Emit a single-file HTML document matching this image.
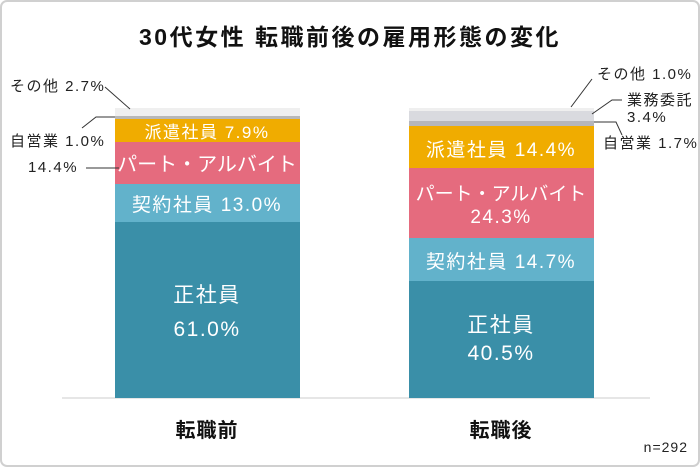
<!DOCTYPE html>
<html><head><meta charset="utf-8"><style>
body{margin:0;background:#fff}
svg text{font-family:"Liberation Sans","Noto Sans CJK JP",sans-serif}
.ls{letter-spacing:1.5px}
</style></head><body>
<svg width="700" height="467" viewBox="0 0 700 467" xmlns="http://www.w3.org/2000/svg">
<rect x="1" y="1" width="698" height="465" rx="6" fill="#fff" stroke="#d0d0d0" stroke-width="2"/>
<text x="350" y="45" font-size="23" font-weight="bold" text-anchor="middle" fill="#111" letter-spacing="2.5">30代女性 転職前後の雇用形態の変化</text>
<line x1="62" y1="398" x2="650" y2="398" stroke="#ccc" stroke-width="1"/>
<!-- left bar -->
<rect x="115" y="108" width="185" height="8" fill="#efefef"/>
<rect x="115" y="116" width="185" height="3" fill="#b8b8b8"/>
<rect x="115" y="119" width="185" height="23" fill="#f0ac00"/>
<rect x="115" y="142" width="185" height="42" fill="#e56b7e"/>
<rect x="115" y="184" width="185" height="38" fill="#62b2cb"/>
<rect x="115" y="222" width="185" height="176" fill="#3a8fa8"/>
<g fill="#fff" text-anchor="middle">
<text x="207" y="138" font-size="17" class="ls">派遣社員 7.9%</text>
<text x="207" y="171" font-size="20">パート・アルバイト</text>
<text x="207" y="211" font-size="19" class="ls">契約社員 13.0%</text>
<text x="207" y="302" font-size="21" class="ls">正社員</text>
<text x="207" y="336" font-size="21" class="ls">61.0%</text>
</g>
<g fill="#222" font-size="15" class="ls">
<text x="10" y="91">その他 2.7%</text>
<text x="10" y="146">自営業 1.0%</text>
<text x="28" y="172">14.4%</text>
</g>
<g stroke="#333" stroke-width="1" fill="none">
<polyline points="105,87 130,109"/>
<polyline points="82,128 96,117 115,117"/>
<polyline points="86,168 119,168"/>
</g>
<!-- right bar -->
<rect x="409" y="108" width="185" height="3" fill="#efefef"/>
<rect x="409" y="111" width="185" height="10" fill="#d9dadf"/>
<rect x="409" y="121" width="185" height="5" fill="#b5b6bb"/>
<rect x="409" y="126" width="185" height="42" fill="#f0ac00"/>
<rect x="409" y="168" width="185" height="70" fill="#e56b7e"/>
<rect x="409" y="238" width="185" height="43" fill="#62b2cb"/>
<rect x="409" y="281" width="185" height="117" fill="#3a8fa8"/>
<g fill="#fff" text-anchor="middle" class="ls">
<text x="501" y="156" font-size="19">派遣社員 14.4%</text>
<text x="501" y="200" font-size="19" letter-spacing="0">パート・アルバイト</text>
<text x="501" y="223" font-size="19">24.3%</text>
<text x="501" y="268" font-size="19">契約社員 14.7%</text>
<text x="501" y="332" font-size="21">正社員</text>
<text x="501" y="360" font-size="21">40.5%</text>
</g>
<g fill="#222" font-size="15" class="ls">
<text x="597" y="79">その他 1.0%</text>
<text x="627" y="105">業務委託</text>
<text x="627" y="122">3.4%</text>
<text x="603" y="148">自営業 1.7%</text>
</g>
<g stroke="#333" stroke-width="1" fill="none">
<polyline points="592,79 571,107"/>
<polyline points="622,100 612,100 592,114"/>
<polyline points="594,122 616,122 622,135"/>
</g>
<text x="207" y="437" font-size="20" font-weight="bold" text-anchor="middle" fill="#111" letter-spacing="1">転職前</text>
<text x="501" y="437" font-size="20" font-weight="bold" text-anchor="middle" fill="#111" letter-spacing="1">転職後</text>
<text x="688" y="452" font-size="14" text-anchor="end" fill="#222" letter-spacing="1">n=292</text>
</svg>
</body></html>
